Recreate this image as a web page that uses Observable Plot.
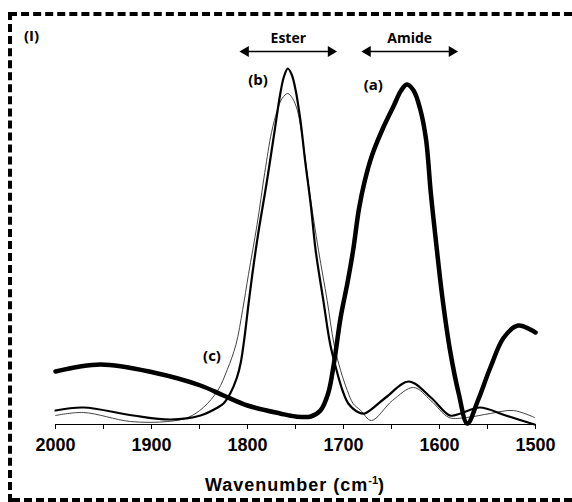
<!DOCTYPE html>
<html><head><meta charset="utf-8">
<script src="https://cdn.jsdelivr.net/npm/d3@7"></script>
<script src="https://cdn.jsdelivr.net/npm/@observablehq/plot@0.6"></script>
<style>
html,body{margin:0;background:#fff;overflow:hidden;}
#wrap{position:relative;width:572px;height:502px;overflow:hidden;font-family:"Liberation Sans",Arial,sans-serif;}
#chart{position:absolute;left:0;top:0;}
.dh{position:absolute;height:0;border-top:4px dashed #000;pointer-events:none;}
.dv{position:absolute;width:0;border-left:4px dashed #000;pointer-events:none;}
.lbl{position:absolute;font-weight:bold;white-space:nowrap;color:#000;}
</style></head><body>
<div id="wrap">
<div id="chart"></div>
<div class="dh" style="left:9px;top:12px;width:563px;"></div>
<div class="dv" style="left:8px;top:12px;height:490px;"></div>
<div class="dh" style="left:12px;top:498px;width:560px;"></div>
<div class="lbl" style="left:24px;top:25px;font-family:'Open Sans';font-size:15px;">(I)</div>
<div class="lbl" style="left:0;width:590px;text-align:center;top:471px;font-size:18px;line-height:18px;letter-spacing:1px;">Wavenumber (cm<sup style="font-size:11px;letter-spacing:0;">-1</sup>)</div>
</div>
<script>
// Curve (a): amide-rich sample (thick)
const aWave = [2000,1953,1898,1849,1825,1800,1766,1750,1734,1724,1716,1710,1703,1696,1690,1684,1678,1670,1659,1648,1640,1634,1627,1620,1614,1609,1603,1597,1589,1580,1571,1560,1547,1533,1518,1500];
const aVal  = [53,60,52,39,29,19,11,8,8,14,31,61,107,141,174,215,243,270,296,318,334,340,334,315,285,231,177,127,74,31,1,24,57,87,99,92];
// Curve (b): ester sample (medium)
const bWave = [2000,1971,1919,1880,1849,1831,1825,1818,1811,1807,1803,1799,1795,1789,1780,1772,1766,1762,1758,1754,1750,1745,1740,1734,1729,1721,1714,1708,1701,1695,1684,1678,1656,1632,1609,1589,1578,1558,1531,1501];
const bVal  = [14,17,9,5,9,17,21,31,47,62,88,120,150,190,242,292,330,348,356,350,335,305,264,219,174,124,81,57,34,21,12,11,27,43,27,9,11,17,9,0];
// Curve (c): thin
const cWave = [2000,1971,1922,1883,1862,1846,1831,1821,1812,1805,1799,1790,1782,1775,1769,1764,1758,1753,1748,1744,1735,1726,1717,1710,1703,1696,1690,1682,1671,1649,1627,1609,1590,1572,1547,1523,1501];
const cVal  = [9,12,3,3,7,17,34,55,80,115,150,200,252,292,314,326,331,326,314,294,230,174,124,81,54,34,21,14,4,24,37,24,7,7,11,14,7];

const majorTicks = [2000,1900,1800,1700,1600,1500];
const minorTicks = [1950,1850,1750,1650,1550];

const annotText = ["(a)","(b)","(c)"];
const annotWave = [1669,1789,1837];
const annotVal  = [339,344,68];

const rangeText = ["Ester","Amide"];
const rangeFrom = [1805,1678];
const rangeTo   = [1710,1584];
const rangeVal  = 373;

const toRows = (w, v) => w.map((d, i) => ({w: d, v: v[i]}));
const ranges = rangeText.map((t, i) => ({t, x1: rangeFrom[i], x2: rangeTo[i], y: rangeVal}));
const annots = annotText.map((t, i) => ({t, x: annotWave[i], y: annotVal[i]}));

const chart = Plot.plot({
  width: 572, height: 502,
  marginLeft: 55, marginRight: 37, marginTop: 24, marginBottom: 78,
  style: {fontFamily: "Liberation Sans, Arial, sans-serif", background: "transparent"},
  x: {domain: [2000, 1500]},
  y: {domain: [0, 400], axis: null},
  marks: [
    Plot.ruleY([0], {stroke: "#000", strokeWidth: 1.2}),
    Plot.axisX({ticks: majorTicks, tickSize: 5, tickPadding: 9, tickFormat: d => String(d), fontSize: 18, fontWeight: "bold", label: null, stroke: "#000"}),
    Plot.axisX({ticks: minorTicks, tickSize: 5, tickFormat: () => "", label: null, stroke: "#000"}),
    Plot.line(toRows(cWave, cVal), {x: "w", y: "v", stroke: "#444", strokeWidth: 1, curve: "catmull-rom"}),
    Plot.line(toRows(bWave, bVal), {x: "w", y: "v", stroke: "#000", strokeWidth: 2.2, curve: "catmull-rom"}),
    Plot.line(toRows(aWave, aVal), {x: "w", y: "v", stroke: "#000", strokeWidth: 4.5, curve: "catmull-rom"}),
    Plot.link(ranges, {x1: "x1", x2: "x2", y1: "y", y2: "y", stroke: "#000", strokeWidth: 1.5}),
    Plot.dot(ranges, {x: "x1", y: "y", symbol: "triangle", r: 4, fill: "#000", stroke: null, rotate: -90, dx: 3}),
    Plot.dot(ranges, {x: "x2", y: "y", symbol: "triangle", r: 4, fill: "#000", stroke: null, rotate: 90, dx: -3}),
    Plot.text(ranges, {x: d => (d.x1 + d.x2) / 2, y: "y", text: "t", dy: -13, fontFamily: "Open Sans", fontWeight: "bold", fontSize: 14, fill: "#000"}),
    Plot.text(annots, {x: "x", y: "y", text: "t", fontFamily: "Open Sans", fontWeight: "bold", fontSize: 15, fill: "#000"})
  ]
});
document.getElementById("chart").appendChild(chart);
</script>
</body></html>
